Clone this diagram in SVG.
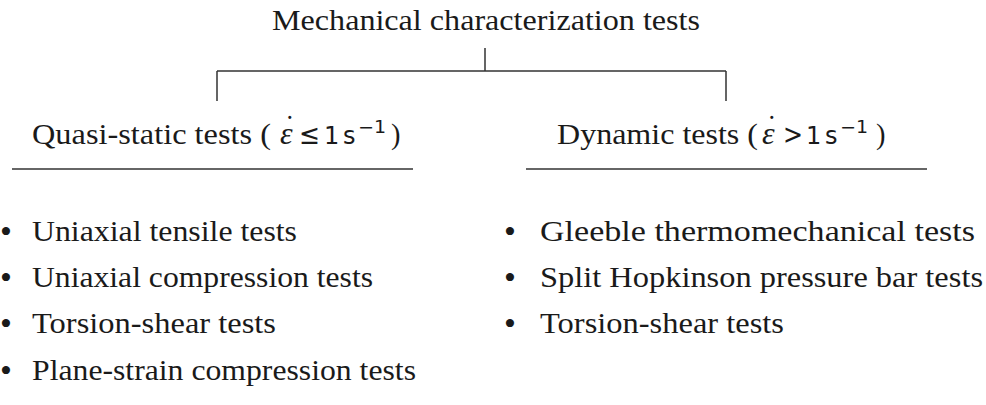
<svg xmlns="http://www.w3.org/2000/svg" width="986" height="405" viewBox="0 0 986 405">
<style>
.t{font-family:"Liberation Serif","DejaVu Serif",serif;font-size:28.5px;fill:#1a1a1a}
.b{font-family:"Liberation Serif","DejaVu Serif",serif;font-size:34px;fill:#1a1a1a}
.m{font-family:"DejaVu Sans","Liberation Sans",sans-serif;font-size:24px}
.r{font-family:"DejaVu Sans","Liberation Sans",sans-serif;font-size:28px}
.sup{font-family:"DejaVu Sans","Liberation Sans",sans-serif;font-size:17px}
.e{font-family:"Liberation Serif",serif;font-style:italic;font-size:32px}
.ln{stroke:#333;stroke-width:1.5;fill:none}
</style>
<rect width="986" height="405" fill="#fff"/>
<g id="root"><text class="t" x="272" y="30" textLength="428" lengthAdjust="spacingAndGlyphs">Mechanical characterization tests</text></g>
<g id="connectors">
<path class="ln" d="M485 48V71M217 71H726M217 71V101M726 71V101"/>
</g>
<g id="quasi">
<text class="t" y="144"><tspan x="32" textLength="239" lengthAdjust="spacingAndGlyphs">Quasi-static tests (</tspan><tspan class="e" x="280">ε</tspan><tspan x="285" y="136">˙</tspan><tspan class="r" x="299" y="144" textLength="21" lengthAdjust="spacingAndGlyphs">≤</tspan><tspan class="m" x="324">1</tspan><tspan class="m" x="343">s</tspan><tspan class="sup" x="358" y="133" textLength="28" lengthAdjust="spacingAndGlyphs">−1</tspan><tspan x="391" y="144">)</tspan></text>
<line class="ln" x1="12" y1="169" x2="413" y2="169"/>
</g>
<g id="dynamic">
<text class="t" y="144"><tspan x="557" textLength="201" lengthAdjust="spacingAndGlyphs">Dynamic tests (</tspan><tspan class="e" x="762">ε</tspan><tspan x="767" y="136">˙</tspan><tspan class="r" x="783" y="144" textLength="20" lengthAdjust="spacingAndGlyphs">&gt;</tspan><tspan class="m" x="806">1</tspan><tspan class="m" x="825">s</tspan><tspan class="sup" x="840" y="133" textLength="28" lengthAdjust="spacingAndGlyphs">−1</tspan><tspan x="876" y="144">)</tspan></text>
<line class="ln" x1="526" y1="169" x2="927" y2="169"/>
</g>
<g id="quasi-list">
<text class="b" x="0" y="243">•</text><text class="t" x="32" y="241" textLength="265" lengthAdjust="spacingAndGlyphs">Uniaxial tensile tests</text>
<text class="b" x="0" y="289">•</text><text class="t" x="32" y="287" textLength="341" lengthAdjust="spacingAndGlyphs">Uniaxial compression tests</text>
<text class="b" x="0" y="335">•</text><text class="t" x="32" y="333" textLength="244" lengthAdjust="spacingAndGlyphs">Torsion-shear tests</text>
<text class="b" x="0" y="382">•</text><text class="t" x="32" y="380" textLength="384" lengthAdjust="spacingAndGlyphs">Plane-strain compression tests</text>
</g>
<g id="dynamic-list">
<text class="b" x="504" y="243">•</text><text class="t" x="540" y="241" textLength="435" lengthAdjust="spacingAndGlyphs">Gleeble thermomechanical tests</text>
<text class="b" x="504" y="289">•</text><text class="t" x="540" y="287" textLength="443" lengthAdjust="spacingAndGlyphs">Split Hopkinson pressure bar tests</text>
<text class="b" x="504" y="335">•</text><text class="t" x="540" y="333" textLength="244" lengthAdjust="spacingAndGlyphs">Torsion-shear tests</text>
</g>
</svg>
